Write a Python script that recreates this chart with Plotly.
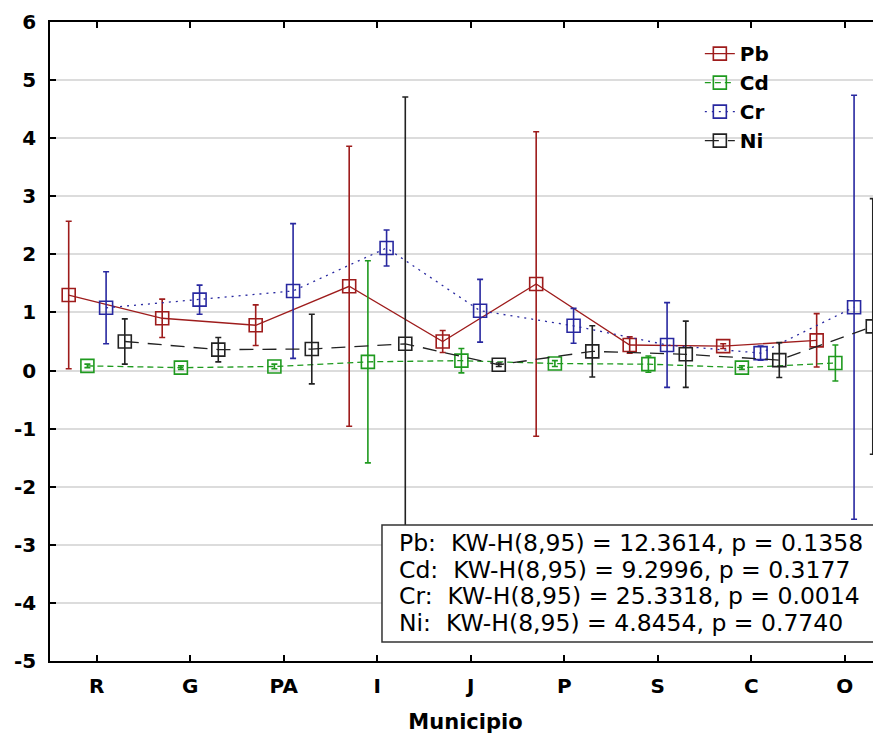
import plotly.graph_objects as go

categories = ["R", "G", "PA", "I", "J", "P", "S", "C", "O"]
y_ticks = [-5, -4, -3, -2, -1, 0, 1, 2, 3, 4, 5, 6]
y_tick_labels = ["-5", "-4", "-3", "-2", "-1", "0", "1", "2", "3", "4", "5", "6"]

pb_mean = [1.30, 0.90, 0.78, 1.45, 0.50, 1.49, 0.44, 0.42, 0.52]
pb_err = [1.27, 0.33, 0.35, 2.41, 0.19, 2.62, 0.14, 0.04, 0.46]

cd_mean = [0.08, 0.05, 0.07, 0.15, 0.17, 0.12, 0.11, 0.05, 0.13]
cd_err = [0.03, 0.03, 0.04, 1.74, 0.21, 0.05, 0.14, 0.03, 0.31]

cr_mean = [1.08, 1.22, 1.37, 2.11, 1.03, 0.77, 0.44, 0.30, 1.09]
cr_err = [0.62, 0.25, 1.16, 0.31, 0.54, 0.30, 0.73, 0.12, 3.65]

ni_mean = [0.50, 0.36, 0.37, 0.46, 0.10, 0.33, 0.28, 0.18, 0.76]
ni_err = [0.39, 0.21, 0.60, 4.25, 0.03, 0.44, 0.57, 0.30, 2.20]

stats_lines = [
    "Pb:  KW-H(8,95) = 12.3614, p = 0.1358",
    "Cd:  KW-H(8,95) = 9.2996, p = 0.3177",
    "Cr:  KW-H(8,95) = 25.3318, p = 0.0014",
    "Ni:  KW-H(8,95) = 4.8454, p = 0.7740",
]

series = [
    ("Pb", pb_mean, pb_err, "#9e1c1c", "solid", -0.3),
    ("Cd", cd_mean, cd_err, "#1f9a1f", "6px,4px", -0.1),
    ("Cr", cr_mean, cr_err, "#2828a0", "2px,5px", 0.1),
    ("Ni", ni_mean, ni_err, "#222222", "14px,9px", 0.3),
]

FONT = "DejaVu Sans, Liberation Sans, Arial, sans-serif"

fig = go.Figure()
for name, mean, err, color, dash, off in series:
    xs = [i + off for i in range(len(categories))]
    fig.add_trace(go.Scatter(
        x=xs, y=mean, name=name, mode="lines+markers",
        line=dict(color=color, width=1.3, dash=dash),
        marker=dict(symbol="square-open", size=13, color=color, line=dict(width=1.6, color=color)),
        error_y=dict(type="data", array=err, visible=True, color=color, thickness=1.6, width=3),
    ))

# page body has an 8px default margin, so the figure is offset by 8px
fig.update_layout(
    width=873, height=726,
    margin=dict(l=42, r=0, t=14, b=73, autoexpand=False),
    paper_bgcolor="white", plot_bgcolor="white",
    font=dict(family=FONT, color="black"),
    showlegend=True,
    legend=dict(
        x=0.782, y=0.981, xanchor="left", yanchor="top",
        bgcolor="rgba(0,0,0,0)", borderwidth=0,
        font=dict(size=20, family=FONT, weight="bold"),
        tracegroupgap=0, itemwidth=30,
    ),
)

fig.update_xaxes(
    range=[-0.5, 8.388], automargin=False,
    tickmode="array", tickvals=list(range(len(categories))), ticktext=categories,
    ticks="inside", ticklen=6, tickwidth=1.5, tickcolor="black",
    showline=True, linecolor="black", linewidth=1.5, mirror="ticks",
    showgrid=False, zeroline=False,
    tickfont=dict(size=20, family=FONT, weight="bold"),
    ticklabelstandoff=6,
    title=dict(text="Municipio", font=dict(size=21, family=FONT, weight="bold"), standoff=21),
)
fig.update_yaxes(
    range=[-5, 6], automargin=False,
    tickmode="array", tickvals=y_ticks, ticktext=y_tick_labels,
    ticks="inside", ticklen=6, tickwidth=1.5, tickcolor="black",
    showline=True, linecolor="black", linewidth=1.5, mirror=False,
    showgrid=True, gridcolor="#dcdcdc", gridwidth=1.5, zeroline=False,
    tickfont=dict(size=20, family=FONT, weight="bold"),
    ticklabelstandoff=8,
)

fig.add_shape(type="rect", xref="paper", yref="paper",
              x0=0.3995, x1=0.9964, y0=0.0297, y1=0.2128,
              line=dict(color="#333333", width=1.5), fillcolor="white", layer="above")

line_ys = [0.1847, 0.1424, 0.1017, 0.0595]
for txt, yy in zip(stats_lines, line_ys):
    fig.add_annotation(text=txt, xref="paper", yref="paper", x=0.4176, y=yy,
                       xanchor="left", yanchor="middle", showarrow=False,
                       font=dict(size=23.5, family=FONT, color="black"))

fig.write_html("out.html")
